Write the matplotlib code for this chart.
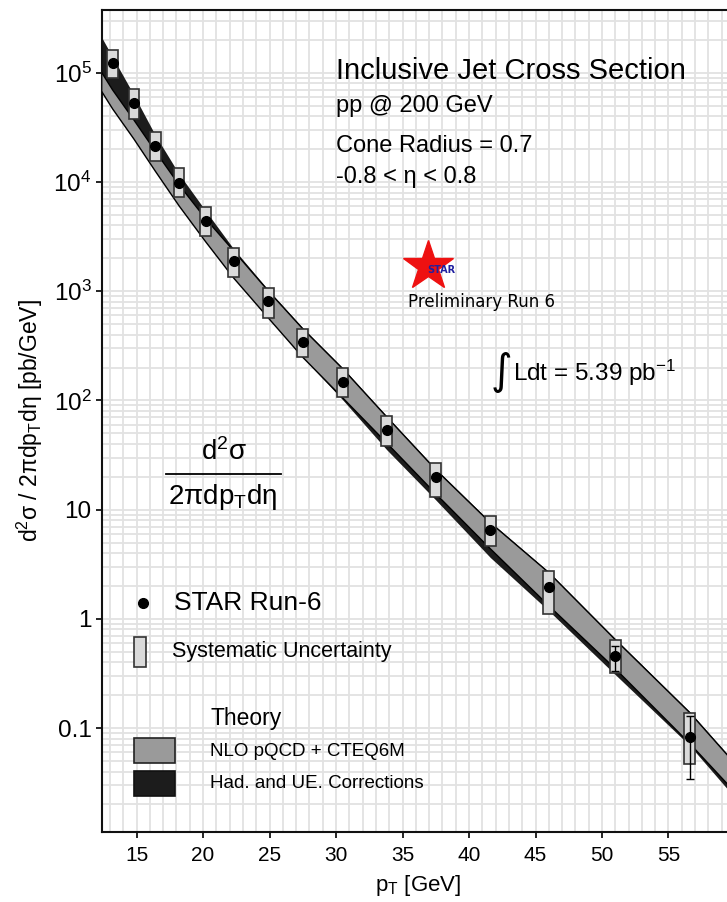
import matplotlib
matplotlib.use("Agg")
import matplotlib.pyplot as plt
import numpy as np
from matplotlib.patches import Rectangle
from matplotlib.lines import Line2D
from matplotlib.ticker import NullFormatter, LogLocator

plt.rcParams['font.family'] = ['Liberation Sans', 'DejaVu Sans']
plt.rcParams['mathtext.fontset'] = 'custom'
plt.rcParams['mathtext.rm'] = 'Liberation Sans'
plt.rcParams['mathtext.default'] = 'regular'

# STAR Run-6 data points
pt = [13.2, 14.8, 16.4, 18.2, 20.2, 22.3, 24.9, 27.5, 30.5, 33.8, 37.5, 41.6, 46.0, 51.0, 56.6]
xsec = [1.23e5, 5.25e4, 2.15e4, 9.86e3, 4.40e3, 1.87e3, 815, 341, 149, 53.8, 20.0, 6.55, 1.94, 0.454, 0.0824]
sys_hi = [1.61e5, 7.05e4, 2.88e4, 1.33e4, 5.90e3, 2.51e3, 1.07e3, 452, 199, 72.3, 26.7, 8.67, 2.72, 0.645, 0.138]
sys_lo = [8.94e4, 3.75e4, 1.57e4, 7.24e3, 3.21e3, 1.34e3, 570, 251, 108, 37.9, 13.0, 4.61, 1.12, 0.322, 0.047]
stat_hi = [1.24e5, 5.3e4, 2.17e4, 9.95e3, 4.45e3, 1.89e3, 825, 346, 152, 55.0, 20.6, 6.8, 2.05, 0.56, 0.128]
stat_lo = [1.22e5, 5.2e4, 2.13e4, 9.77e3, 4.35e3, 1.85e3, 805, 336, 146, 52.6, 19.4, 6.3, 1.83, 0.331, 0.0345]

# theory bands
th_pt = [12.4, 13.2, 14.8, 16.4, 18.2, 20.2, 22.3, 24.9, 27.5, 30.5, 33.8, 37.5, 41.6, 46.0, 51.0, 56.6, 59.4]
nlo_hi = [9.94e4, 6.95e4, 3.69e4, 1.92e4, 9.39e3, 4.59e3, 2.34e3, 1006, 452, 195, 70.8, 23.2, 7.59, 2.65, 0.645, 0.1386, 0.0572]
nlo_lo = [6.66e4, 4.66e4, 2.47e4, 1.26e4, 6.03e3, 2.83e3, 1.32e3, 570, 248, 105.6, 40.9, 13.98, 4.39, 1.32, 0.350, 0.0723, 0.0311]
had_hi = [2.08e5, 1.39e5, 6.25e4, 2.69e4, 1.18e4, 5.43e3, 2.44e3, 1030, 462, 199, 72.3, 23.7, 7.75, 2.70, 0.659, 0.1416, 0.0584]
had_lo = [6.66e4, 4.66e4, 2.47e4, 1.26e4, 6.03e3, 2.83e3, 1.32e3, 570, 248, 101.3, 35.5, 12.27, 3.65, 1.186, 0.309, 0.0693, 0.0280]

x_ticks = [15, 20, 25, 30, 35, 40, 45, 50, 55]
y_ticks = [0.1, 1, 10, 1e2, 1e3, 1e4, 1e5]
y_ticklabels = ['0.1', '1', '10', '10$^2$', '10$^3$', '10$^4$', '10$^5$']

W, H = 727, 902


def fx(x):
    return x / W


def fy(y):
    return 1 - y / H


fig = plt.figure(figsize=(W / 100, H / 100), dpi=100)
ax = fig.add_axes([fx(102), fy(832), (727 - 102) / W, (832 - 10) / H])
ax.set_yscale('log')
ax.set_xlim(12.4, 59.4)
ax.set_ylim(0.0112, 3.75e5)

# grid
ax.set_xticks(np.arange(13, 60, 1), minor=True)
ax.yaxis.set_minor_locator(LogLocator(base=10, subs=np.arange(2, 10), numticks=30))
ax.yaxis.set_minor_formatter(NullFormatter())
ax.grid(which='both', color='#e2e2e2', lw=1.3)
ax.set_axisbelow(True)

# theory bands
ax.fill_between(th_pt, had_lo, had_hi, color='#1c1c1c', lw=0, zorder=2)
ax.fill_between(th_pt, nlo_lo, nlo_hi, color='#9a9a9a', lw=0, zorder=3)
ax.plot(th_pt, nlo_hi, color='black', lw=1.0, zorder=3)
ax.plot(th_pt, nlo_lo, color='black', lw=1.0, zorder=3)

# systematic boxes
xsec_a = np.array(xsec)
ax.bar(pt, np.array(sys_hi) - np.array(sys_lo), bottom=sys_lo, width=0.8,
       color='#dadada', edgecolor='#333333', linewidth=1.2, zorder=4)
# stat errors and points
ax.errorbar(pt, xsec, yerr=[xsec_a - np.array(stat_lo), np.array(stat_hi) - xsec_a],
            fmt='none', ecolor='black', elinewidth=1.0, capsize=3, zorder=5)
ax.plot(pt, xsec, 'o', color='black', markersize=7, zorder=6)

# axes styling
ax.set_xticks(x_ticks)
ax.set_xticklabels([str(v) for v in x_ticks], fontsize=15)
ax.set_yticks(y_ticks)
ax.set_yticklabels(y_ticklabels, fontsize=17.5)
ax.tick_params(which='major', direction='out', length=4, width=1.2, color='black')
ax.tick_params(which='minor', length=0)
ax.tick_params(axis='x', pad=6)
ax.spines['right'].set_visible(False)
for s in ['left', 'bottom', 'top']:
    ax.spines[s].set_linewidth(1.5)
    ax.spines[s].set_color('#111111')

fig.text(fx(30), fy(421), r'd$^2$σ / 2πdp$_T$dη [pb/GeV]', rotation=90,
         fontsize=16.5, ha='center', va='center')
fig.text(fx(418), fy(886), r'p$_T$ [GeV]', fontsize=16, ha='center', va='center')

# header text
fig.text(fx(336), fy(71), 'Inclusive Jet Cross Section', fontsize=21, va='center')
fig.text(fx(336), fy(106), 'pp @ 200 GeV', fontsize=17, va='center')
fig.text(fx(336), fy(146), 'Cone Radius = 0.7', fontsize=17, va='center')
fig.text(fx(336), fy(177), '-0.8 < η < 0.8', fontsize=17, va='center')

# STAR logo
fig.add_artist(Line2D([fx(428)], [fy(266)], marker='*', color='#ee1111', markersize=38,
                      transform=fig.transFigure))
fig.text(fx(441), fy(270), 'STAR', fontsize=7, color='#2020a0', fontweight='bold',
         ha='center', va='center', family='DejaVu Sans')
fig.text(fx(408), fy(302), 'Preliminary Run 6', fontsize=12, va='center', family='DejaVu Sans')

# luminosity
fig.text(fx(501), fy(372), '∫', fontsize=30, ha='center', va='center', family='DejaVu Sans')
fig.text(fx(513), fy(373), r'Ldt = 5.39 pb$^{-1}$', fontsize=17.5, va='center')

# fraction
fig.text(fx(224), fy(452), r'd$^2$σ', fontsize=20, ha='center', va='center')
fig.add_artist(Line2D([fx(166), fx(281)], [fy(474), fy(474)], color='black', lw=1.3,
                      transform=fig.transFigure))
fig.text(fx(223), fy(497), r'2πdp$_T$dη', fontsize=20, ha='center', va='center')

# legend
fig.add_artist(Line2D([fx(143)], [fy(603)], marker='o', color='black', markersize=7,
                      transform=fig.transFigure))
fig.text(fx(174), fy(603), 'STAR Run-6', fontsize=19, va='center')
fig.add_artist(Rectangle((fx(134), fy(667)), fx(146) - fx(134), fy(637) - fy(667),
                         facecolor='#dadada', edgecolor='#333333', lw=1.2,
                         transform=fig.transFigure))
fig.text(fx(172), fy(652), 'Systematic Uncertainty', fontsize=15.5, va='center')
fig.text(fx(210), fy(718), 'Theory', fontsize=16.5, va='center')
fig.add_artist(Rectangle((fx(134), fy(763)), fx(175) - fx(134), fy(738) - fy(763),
                         facecolor='#9a9a9a', edgecolor='#222222', lw=1.2,
                         transform=fig.transFigure))
fig.text(fx(210), fy(751), 'NLO pQCD + CTEQ6M', fontsize=13.5, va='center')
fig.add_artist(Rectangle((fx(134), fy(796)), fx(175) - fx(134), fy(771) - fy(796),
                         facecolor='#1c1c1c', edgecolor='#111111', lw=1.2,
                         transform=fig.transFigure))
fig.text(fx(210), fy(784), 'Had. and UE. Corrections', fontsize=13.5, va='center')

plt.savefig('out.png', dpi=100)
plt.close()
